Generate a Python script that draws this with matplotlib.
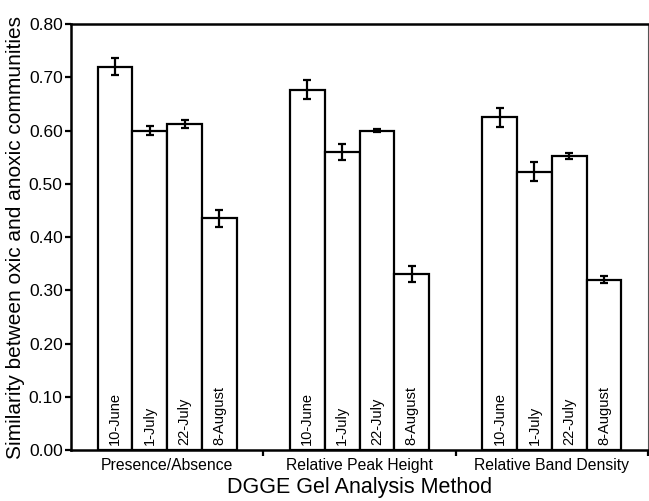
import numpy as np
import matplotlib
matplotlib.use("Agg")
import matplotlib.pyplot as plt
from matplotlib.ticker import FormatStrFormatter, FixedLocator

plt.rcParams['font.family'] = ['Liberation Sans', 'DejaVu Sans']

# data
methods = ["Presence/Absence", "Relative Peak Height", "Relative Band Density"]
dates = ["10-June", "1-July", "22-July", "8-August"]
similarity = [
    [0.720, 0.600, 0.612, 0.435],
    [0.677, 0.560, 0.600, 0.330],
    [0.625, 0.523, 0.552, 0.320],
]
errors = [
    [0.016, 0.009, 0.008, 0.016],
    [0.017, 0.015, 0.003, 0.015],
    [0.018, 0.018, 0.006, 0.007],
]

fig = plt.figure(figsize=(6.49, 5.01), dpi=100)
ax = fig.add_axes([0.1094, 0.1018, 0.8891, 0.8502])

width = 0.181
group_x = np.arange(len(methods))
for g in range(len(methods)):
    xs = group_x[g] + (np.arange(len(dates)) - 1.5) * width
    ax.bar(xs, similarity[g], width=width, color='white', edgecolor='black',
           linewidth=1.6, zorder=2)
    ax.errorbar(xs, similarity[g], yerr=errors[g], fmt='none', ecolor='black',
                elinewidth=1.6, capsize=2.6, capthick=1.6, zorder=3)
    for x, d in zip(xs, dates):
        ax.text(x, 0.01, d, rotation=90, ha='center', va='bottom', fontsize=10.5)

ax.set_xlim(-0.5, 2.5)
ax.set_ylim(0, 0.8)
ax.set_yticks(np.arange(0, 0.81, 0.1))
ax.yaxis.set_major_formatter(FormatStrFormatter('%.2f'))
ax.set_xticks(group_x)
ax.set_xticklabels(methods, fontsize=11.3)
ax.xaxis.set_minor_locator(FixedLocator([0.5, 1.5, 2.5]))
ax.tick_params(axis='x', which='major', length=0, pad=6)
ax.tick_params(axis='x', which='minor', length=4, width=1.6, direction='out')
ax.tick_params(axis='y', length=4, width=1.6, direction='out', labelsize=12.5, pad=2)

for side in ['left', 'bottom', 'top']:
    ax.spines[side].set_linewidth(1.8)
ax.spines['right'].set_linewidth(0.8)
ax.spines['right'].set_color('#555555')

ax.set_ylabel("Similarity between oxic and anoxic communities", fontsize=15, labelpad=3)
ax.set_xlabel("DGGE Gel Analysis Method", fontsize=15.5, labelpad=3)

fig.savefig("out.png", dpi=100)
